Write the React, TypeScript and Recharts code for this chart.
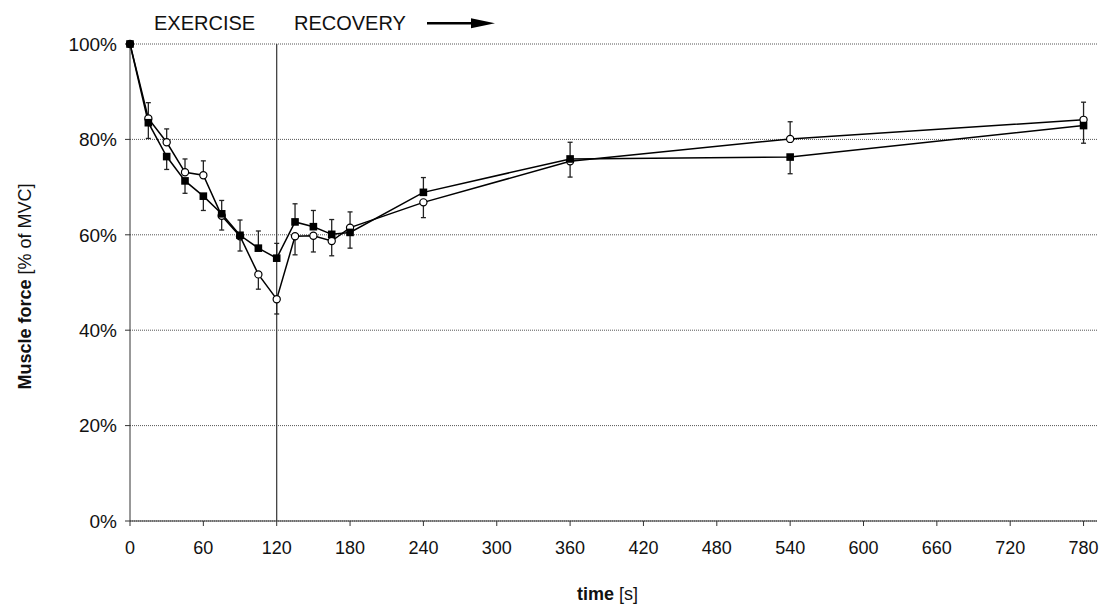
import React from "react";
import { LineChart, Line, XAxis, YAxis, CartesianGrid, ReferenceLine, ErrorBar, Label } from "recharts";

// time points [s]
const times = [0, 15, 30, 45, 60, 75, 90, 105, 120, 135, 150, 165, 180, 240, 360, 540, 780];

// open circles
const circleVals = [100, 84.4, 79.4, 73.1, 72.5, 64.0, 59.7, 51.7, 46.5, 59.7, 59.8, 58.7, 61.5, 66.8, 75.4, 80.1, 84.1];
const circleUp = [0, 3.3, 2.8, 2.8, 3.0, 0, 0, 0, 0, 0, 0, 0, 3.3, 0, 0, 3.6, 3.7];
const circleDown = [0, 0, 0, 0, 0, 3.0, 3.1, 3.1, 3.1, 3.9, 3.4, 3.1, 0, 3.2, 3.3, 0, 0];

// filled squares
const squareVals = [100, 83.5, 76.4, 71.3, 68.1, 64.4, 59.9, 57.2, 55.1, 62.7, 61.7, 60.1, 60.5, 68.9, 75.9, 76.3, 82.9];
const squareUp = [0, 0, 0, 0, 0, 2.8, 3.2, 3.6, 3.1, 3.8, 3.4, 3.1, 0, 3.1, 3.5, 0, 0];
const squareDown = [0, 3.3, 2.7, 2.6, 3.0, 0, 0, 0, 0, 0, 0, 0, 3.3, 0, 0, 3.5, 3.7];

const xTicks = [0, 60, 120, 180, 240, 300, 360, 420, 480, 540, 600, 660, 720, 780];
const yTicks = [0, 20, 40, 60, 80, 100];

const data = times.map((t, i) => ({
  t,
  circle: circleVals[i],
  square: squareVals[i],
  circleErr: [circleDown[i], circleUp[i]],
  squareErr: [squareDown[i], squareUp[i]],
}));

const font = "'Liberation Sans', Arial, Helvetica, sans-serif";
const ink = "#111";
const axisColor = "#333";

const SquareDot = (props: any) => {
  const { cx, cy, index } = props;
  if (cx == null || cy == null) return null;
  return <rect key={`sq-${index}`} x={cx - 3.8} y={cy - 3.8} width={7.6} height={7.6} fill="#000" />;
};

const YTitle = (props: any) => {
  const vb = props.viewBox || { y: 44, height: 477 };
  const cx = 31;
  const cy = vb.y + vb.height / 2 + 4;
  return (
    <text x={cx} y={cy} transform={`rotate(-90 ${cx} ${cy})`} textAnchor="middle" fontSize={18} fill={ink} fontFamily={font}>
      <tspan fontWeight="bold">Muscle force</tspan>
      <tspan> [% of MVC]</tspan>
    </text>
  );
};

const XTitle = (props: any) => {
  const vb = props.viewBox || { x: 130, width: 967 };
  return (
    <text x={vb.x + vb.width / 2 - 6} y={600} textAnchor="middle" fontSize={18} fill={ink} fontFamily={font}>
      <tspan fontWeight="bold">time</tspan>
      <tspan> [s]</tspan>
    </text>
  );
};

export default function App() {
  return (
    <div style={{ position: "absolute", left: 0, top: 0, width: 1101, height: 608, background: "#fff", fontFamily: font }}>
      <LineChart width={1101} height={608} data={data} margin={{ top: 44, right: 4, left: 0, bottom: 0 }}>
        <CartesianGrid vertical={false} stroke="#555" strokeDasharray="1 1" />
        <XAxis
          type="number"
          dataKey="t"
          domain={[0, 791]}
          ticks={xTicks}
          height={87}
          tickSize={5}
          tickMargin={15}
          stroke={axisColor}
          tick={{ fontSize: 18, fill: ink, fontFamily: font }}
        >
          <Label content={<XTitle />} />
        </XAxis>
        <YAxis
          type="number"
          domain={[0, 100]}
          ticks={yTicks}
          width={130}
          tickSize={5}
          tickMargin={8}
          stroke={axisColor}
          tickFormatter={(v) => `${v}%`}
          tick={{ fontSize: 19, fill: ink, fontFamily: font }}
        >
          <Label content={<YTitle />} />
        </YAxis>
        <ReferenceLine x={120} stroke={axisColor} strokeWidth={1.2} />
        <Line
          type="linear"
          dataKey="circle"
          stroke="#000"
          strokeWidth={1.5}
          dot={{ r: 3.6, fill: "#fff", stroke: "#000", strokeWidth: 1.2 }}
          activeDot={false}
          isAnimationActive={false}
        >
          <ErrorBar dataKey="circleErr" direction="y" width={2.5} stroke="#222" strokeWidth={1.3} isAnimationActive={false} />
        </Line>
        <Line
          type="linear"
          dataKey="square"
          stroke="#000"
          strokeWidth={1.5}
          dot={<SquareDot />}
          activeDot={false}
          isAnimationActive={false}
        >
          <ErrorBar dataKey="squareErr" direction="y" width={2.5} stroke="#222" strokeWidth={1.3} isAnimationActive={false} />
        </Line>
      </LineChart>
      <svg width={1101} height={44} style={{ position: "absolute", left: 0, top: 0, pointerEvents: "none" }}>
        <text x={154} y={30} fontSize={20} fill={ink} fontFamily={font}>EXERCISE</text>
        <text x={294} y={30} fontSize={20} fill={ink} fontFamily={font}>RECOVERY</text>
        <line x1={427} y1={23.3} x2={473} y2={23.3} stroke="#000" strokeWidth={2.5} />
        <polygon points="471,18.3 495,23.3 471,28.3" fill="#000" />
      </svg>
    </div>
  );
}
